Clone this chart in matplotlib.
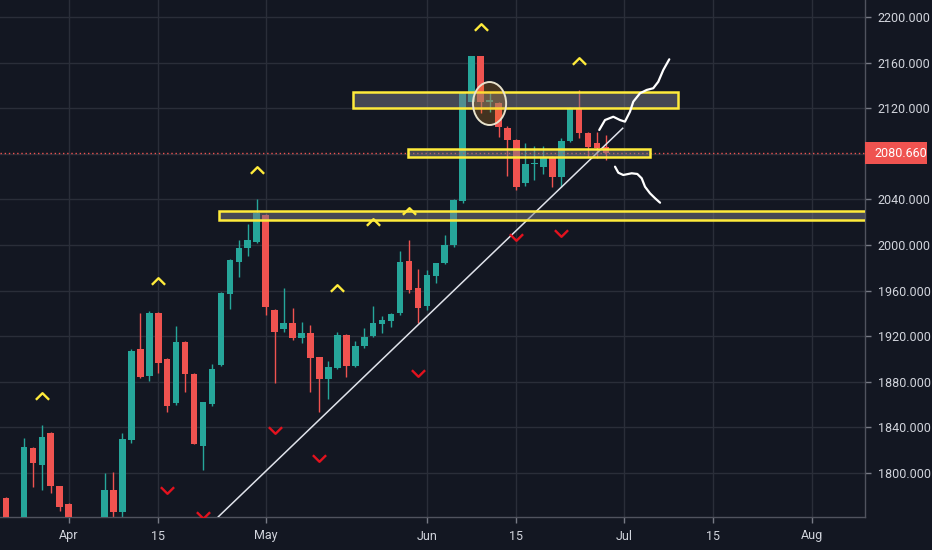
import numpy as np
import matplotlib.pyplot as plt
from matplotlib.patches import Rectangle, Ellipse
from matplotlib.path import Path

# daily OHLC (first candles partly below the visible range)
opens = [1778, 1752, 1745, 1822, 1807, 1835, 1788.6, 1773, 1750, 1735, 1748, 1750,
         1785, 1766, 1829, 1909, 1885, 1940, 1900, 1861.4, 1915, 1887, 1823.7, 1860.5,
         1894.7, 1957, 1985, 1997.4, 2002.6, 2026.3, 1943, 1926.3, 1931.6, 1918.4, 1922.8,
         1901.7, 1882.5, 1892, 1921, 1894, 1911.4, 1920, 1930.7, 1933, 1940, 1986, 1962.3,
         1946.5, 1972.8, 1984, 2000, 2038.6, 2125, 2165.8, 2125.4, 2124.6, 2103, 2092,
         2054, 2071, 2068.4, 2077, 2059.6, 2091, 2120, 2098, 2089.5, 2086]
highs = [1779, 1757, 1830.7, 1823, 1842, 1836, 1789, 1774, 1758, 1755, 1757, 1800,
         1801, 1835, 1909, 1940, 1942, 1941, 1901, 1929, 1916, 1888, 1862.5, 1895.6,
         1958.5, 1988, 2004.4, 2018.4, 2040.3, 2027, 1944, 1962, 1944.7, 1932.5, 1929.8,
         1902, 1898, 1923.7, 1922, 1915.8, 1927.2, 1946.5, 1937.7, 1940, 1994.7, 2004.4, 1979,
         1978, 1984, 2008.8, 2040, 2134, 2166, 2166, 2134, 2125, 2104, 2093,
         2089.5, 2087, 2087, 2078, 2094, 2121, 2136, 2099, 2099, 2096.5]
lows = [1745, 1735, 1740, 1787.7, 1785, 1782.5, 1767, 1740, 1730, 1725, 1735, 1745,
        1755, 1760, 1826, 1883, 1881, 1888, 1853.5, 1860, 1871, 1825, 1802.6, 1859,
        1894, 1944, 1972, 1990, 2002, 1938.6, 1879, 1923.7, 1917, 1914, 1871,
        1853.5, 1865, 1891, 1884, 1893, 1910, 1919, 1922.8, 1928, 1939, 1958, 1931.6,
        1943, 1966.6, 1983, 1998, 2037, 2124, 2116, 2116.7, 2094.7, 2060.5, 2048.2,
        2052, 2057, 2062, 2051, 2051, 2090, 2094, 2077, 2076, 2074.5]
closes = [1755, 1742, 1822.8, 1808.8, 1831.6, 1788.6, 1770, 1750, 1740, 1748, 1745, 1785,
          1766, 1830, 1907, 1884, 1940, 1896.5, 1859, 1915, 1887, 1825.4, 1862, 1891,
          1958, 1987, 1997.4, 2004.4, 2028, 1945.6, 1923.7, 1931.6, 1918.4, 1922.8, 1901,
          1882.5, 1893, 1921, 1894, 1911.4, 1919.3, 1931.6, 1934, 1939.4, 1985, 1960.5, 1944.7,
          1973.7, 1984, 2000, 2039.5, 2133.3, 2165.8, 2125.4, 2127, 2103.5, 2092, 2051,
          2071, 2072, 2077, 2059.6, 2091, 2120.2, 2098, 2086, 2085, 2080.66]

last_price = 2080.66

# time axis (bar index) labels
date_ticks = [7, 17, 29, 47, 57, 69, 79, 90]
date_labels = ['Apr', '15', 'May', 'Jun', '15', 'Jul', '15', 'Aug']
price_ticks = np.arange(1800, 2201, 40)

# drawings: zones (start bar, end bar, low, high)
zones = [(38.75, 75.04, 2120.3, 2134.4),
         (44.84, 71.92, 2077.2, 2084.2),
         (23.79, 100.0, 2021.5, 2029.8)]
circle_center = (54.0, 2124.1)
circle_size = (3.7, 37.7)
trend_x = [23.71, 68.87]
trend_y = [1761.6, 2102.4]

up_path_x = [66.25, 66.89, 67.82, 68.57, 69.12, 69.68, 70.05, 70.80, 71.55, 72.28, 72.84, 73.40, 74.07]
up_path_y = [2100.9, 2109.6, 2112.5, 2109.6, 2108.2, 2116.9, 2125.7, 2133.1, 2136.0, 2137.5, 2143.2, 2153.5, 2162.9]
dn_path_x = [68.01, 68.38, 68.93, 69.87, 70.50, 70.99, 71.36, 71.92, 72.48, 73.04]
dn_path_y = [2068.7, 2063.4, 2061.4, 2062.9, 2062.3, 2058.5, 2051.1, 2045.3, 2041.0, 2037.1]

# pivot markers
piv_hi_x = [4, 17, 28, 37, 41, 45, 53, 64]
piv_hi_y = [1867.5, 1968.4, 2066.0, 1962.3, 2020.2, 2029.8, 2191.2, 2161.4]
piv_lo_x = [18, 22, 30, 35, 46, 57, 62]
piv_lo_y = [1785, 1763, 1837.7, 1813.2, 1887.7, 2007, 2010.5]

BG = '#131722'
GREEN = '#26a69a'
RED = '#ef5350'
GRID = '#2a2e39'
TEXT = '#d1d4dc'

plt.rcParams['font.family'] = ['Roboto', 'DejaVu Sans']

fig = plt.figure(figsize=(9.32, 5.5), dpi=100, facecolor=BG)
ax = fig.add_axes([0, 33 / 550, 865.3 / 932, 517 / 550], facecolor=BG)

o = np.array(opens)
h = np.array(highs)
l = np.array(lows)
c = np.array(closes)
idx = np.arange(len(o))
col = np.where(c >= o, GREEN, RED)

ax.vlines(idx, l, h, colors=col, linewidth=1, zorder=2)
body_h = np.maximum(np.abs(c - o), 1.0)
ax.bar(idx, body_h, bottom=np.minimum(o, c), width=0.74, color=col, linewidth=0, zorder=3)

ax.axhline(last_price, color=RED, linestyle=(0, (1, 2)), linewidth=1, zorder=4)

ax.plot(trend_x, trend_y, color='#e0e3eb', linewidth=1.1, zorder=5)

for x0, x1, y0, y1 in zones:
    ax.add_patch(Rectangle((x0, y0), x1 - x0, y1 - y0, facecolor=(0.47, 0.48, 0.53, 0.5),
                           edgecolor='#ffeb3b', linewidth=1.8, zorder=6))

ax.add_patch(Ellipse(circle_center, circle_size[0], circle_size[1], facecolor=(0.95, 0.6, 0.1, 0.22),
                     edgecolor='#e8e2cc', linewidth=1.4, zorder=7))

ax.plot(up_path_x, up_path_y, color='white', linewidth=1.6, zorder=8, solid_capstyle='round')
ax.plot(dn_path_x, dn_path_y, color='white', linewidth=1.6, zorder=8, solid_capstyle='round')

chev_up = Path([(-1, -0.5), (0, 0.5), (1, -0.5)], [Path.MOVETO, Path.LINETO, Path.LINETO])
chev_dn = Path([(-1, 0.5), (0, -0.5), (1, 0.5)], [Path.MOVETO, Path.LINETO, Path.LINETO])
ax.plot(piv_hi_x, piv_hi_y, linestyle='none', marker=chev_up, markersize=9.5, mfc='none',
        mec='#ffeb3b', mew=1.7, zorder=9)
ax.plot(piv_lo_x, piv_lo_y, linestyle='none', marker=chev_dn, markersize=9.5, mfc='none',
        mec='#e3121e', mew=1.7, zorder=9)

ax.set_xlim(-0.67, 95.96)
ax.set_ylim(1761.4, 2214.9)

ax.set_xticks(date_ticks)
ax.set_xticklabels(date_labels)
ax.set_yticks(price_ticks)
# the 2080 label sits under the last-price tag on the scale
ax.set_yticklabels(['' if abs(p - last_price) < 15 else '%.3f' % p for p in price_ticks])
ax.yaxis.tick_right()
ax.grid(True, color=GRID, linewidth=1, zorder=0)
ax.set_axisbelow(True)
ax.tick_params(axis='both', colors='#787b86', labelcolor=TEXT, labelsize=9, length=4, width=1)
ax.tick_params(axis='y', pad=5)
ax.tick_params(axis='x', pad=5)

for s in ['top', 'left']:
    ax.spines[s].set_visible(False)
for s in ['right', 'bottom']:
    ax.spines[s].set_color('#50535e')
    ax.spines[s].set_linewidth(1)

# current price label on the price scale
fig.canvas.draw()
px, py = ax.transData.transform((95.96, last_price))
ax_right = ax.get_position().x1
fig.patches.append(Rectangle((ax_right, (py - 11) / 550), 62 / 932, 22 / 550,
                             transform=fig.transFigure, facecolor=RED, edgecolor='none', zorder=10))
fig.text(ax_right + 9 / 932, py / 550, '%.3f' % last_price, color='white', fontsize=9,
         va='center', ha='left', zorder=11)

fig.savefig('out.png', dpi=100, facecolor=BG)
